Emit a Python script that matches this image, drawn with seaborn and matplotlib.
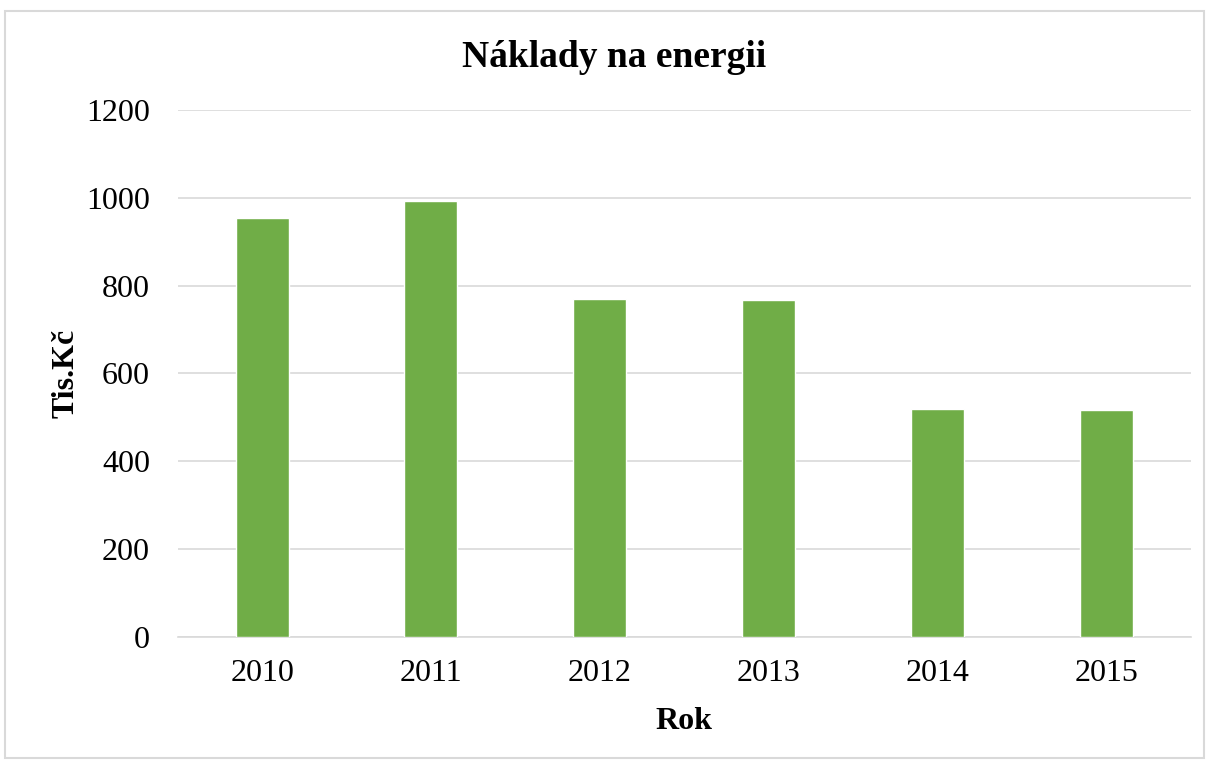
import matplotlib
matplotlib.use("Agg")
import matplotlib.pyplot as plt
import seaborn as sns
import pandas as pd
from matplotlib.patches import Rectangle

years = ["2010", "2011", "2012", "2013", "2014", "2015"]
values = [954, 992, 770, 767, 518, 516]

df = pd.DataFrame({"Rok": years, "Tis.Kč": values})

sns.set_style("white")
plt.rcParams["font.family"] = ["Liberation Serif", "DejaVu Serif"]
plt.rcParams["text.color"] = "black"
plt.rcParams["axes.labelcolor"] = "black"

fig = plt.figure(figsize=(12.09, 7.62), dpi=100)
ax = fig.add_axes([0.147, 0.1644, 0.8378, 0.6912])

sns.barplot(data=df, x="Rok", y="Tis.Kč", color="#70ad47", width=0.314,
            saturation=1, ax=ax, zorder=3)

ax.set_ylim(0, 1200)
ax.set_xlim(-0.5, 5.5)
ax.set_yticks(range(0, 1201, 200))
ax.yaxis.grid(True, color="#d9d9d9", linewidth=1.2, zorder=0)
ax.set_axisbelow(True)
for s in ["top", "right", "left"]:
    ax.spines[s].set_visible(False)
ax.spines["bottom"].set_color("#d9d9d9")
ax.spines["bottom"].set_linewidth(1.2)
ax.tick_params(axis="both", length=0, labelsize=23, colors="#000000")
ax.tick_params(axis="y", pad=20)
ax.tick_params(axis="x", pad=16)

ax.set_xlabel("Rok", fontsize=23, fontweight="bold", labelpad=14, color="black")
ax.set_ylabel("Tis.Kč", fontsize=23, fontweight="bold", labelpad=4, color="black")
fig.text(0.508, 0.925, "Náklady na energii", ha="center", va="center",
         fontsize=27, fontweight="bold", color="black")

fig.patches.append(Rectangle((0.004, 0.005), 0.992, 0.98, transform=fig.transFigure,
                             fill=False, edgecolor="#d9d9d9", linewidth=1.5))

fig.savefig("out.png", dpi=100)
